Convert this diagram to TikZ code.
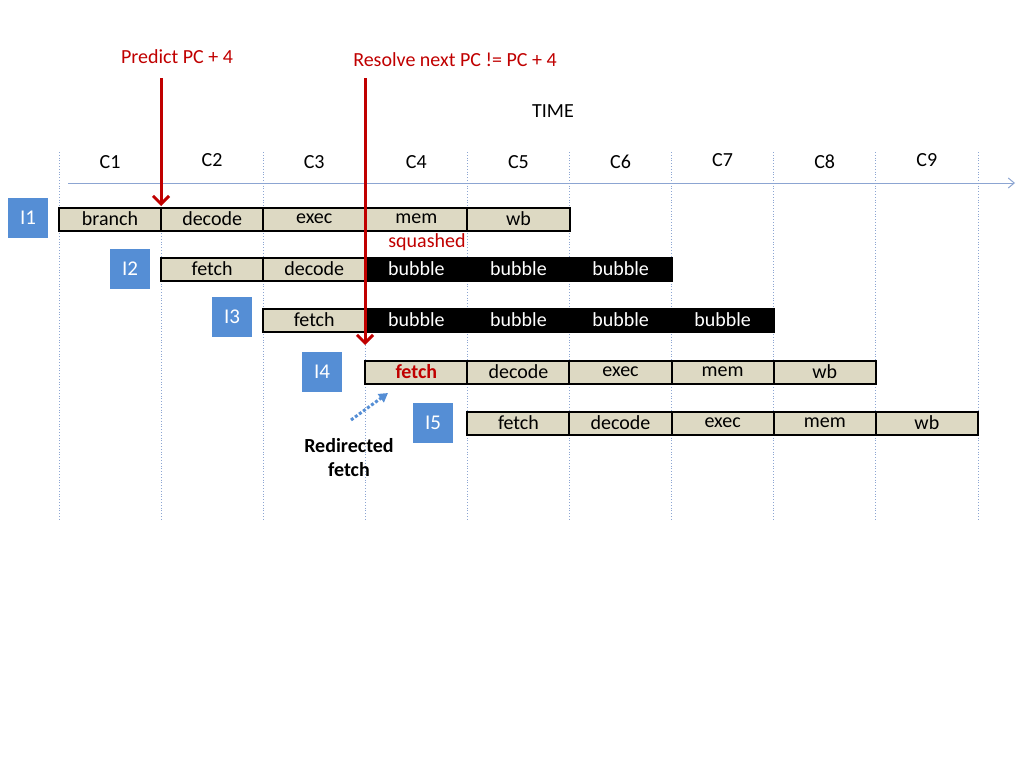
\documentclass[tikz,border=0pt]{standalone}
\usepackage{fontspec}
\setmainfont{Carlito}
\usetikzlibrary{arrows.meta}
\definecolor{tan}{RGB}{221,217,195}
\definecolor{dred}{RGB}{192,0,0}
\definecolor{lblue}{RGB}{85,142,213}
\definecolor{axis}{RGB}{140,165,210}
\tikzset{
 stg/.style={draw=black,line width=2pt,fill=tan,minimum width=102.3pt,minimum height=23pt,inner sep=0,font=\fontsize{20}{22}\selectfont,text=black},
 bub/.style={stg,fill=black,text=white},
 ilab/.style={fill=lblue,minimum width=40pt,minimum height=40pt,inner sep=0,text=white,font=\fontsize{21}{23}\selectfont},
 txt/.style={font=\fontsize{20}{22}\selectfont,inner sep=0},
 redarr/.style={draw=dred,line width=3pt,-{Straight Barb[length=8pt,width=16pt,line width=3pt]}}
}
\begin{document}
\begin{tikzpicture}[x=1pt,y=-1pt]
\useasboundingbox (0,0) rectangle (1024,768);
\foreach \i in {0,...,9}{\draw[axis,dotted,line width=0.8pt] (59+\i*102.1,152) -- (59+\i*102.1,520);}
\coordinate (a0) at (68,183); \coordinate (a1) at (1015,183);
\draw[axis,line width=1pt,-{Straight Barb[length=6pt,width=10pt]}] (a0) -- (a1);
\foreach \n/\y [count=\i from 0] in {C1/162,C2/160,C3/162,C4/162,C5/162,C6/162,C7/160,C8/162,C9/160}
 \node[txt] (c\n) at (110+\i*102.1,\y) {\n};
\node[txt] (time) at (553,111) {TIME};
% rows
\newcommand{\cx}[1]{(110.05+#1*102.1)}
\foreach \t [count=\i from 0] in {branch,decode,exec,mem,wb}
 \node[stg] (r1\i) at ({110.05+\i*102.1},219) {\t};
\foreach \t [count=\i from 1] in {fetch,decode}
 \node[stg] (r2\i) at ({110.05+\i*102.1},269) {\t};
\foreach \t [count=\i from 3] in {bubble,bubble,bubble}
 \node[bub] (r2\i) at ({110.05+\i*102.1},269) {\t};
\node[stg] (r32) at ({110.05+2*102.1},320) {fetch};
\foreach \i in {3,...,6}
 \node[bub] (r3\i) at ({110.05+\i*102.1},320) {bubble};
\node[stg,text=dred,font=\fontsize{20}{22}\selectfont\bfseries] (r43) at ({110.05+3*102.1},372) {fetch};
\foreach \t [count=\i from 4] in {decode,exec,mem,wb}
 \node[stg] (r4\i) at ({110.05+\i*102.1},372) {\t};
\foreach \t [count=\i from 4] in {fetch,decode,exec,mem,wb}
 \node[stg] (r5\i) at ({110.05+\i*102.1},423) {\t};
\node[ilab] (i1) at (28,218) {I1};
\node[ilab] (i2) at (130,269) {I2};
\node[ilab] (i3) at (232,317) {I3};
\node[ilab] (i4) at (322,372) {I4};
\node[ilab] (i5) at (433,423) {I5};
\node[txt,text=dred] (sq) at (427,242) {squashed};
\node[txt,text=dred] (pred) at (177,57) {Predict PC + 4};
\node[txt,text=dred] (res) at (455,60) {Resolve next PC != PC + 4};
\coordinate (p0) at (161,78); \coordinate (p1) at (161,206);
\coordinate (q0) at (365,78); \coordinate (q1) at (365,345);
\draw[redarr] (p0) -- (p1);
\draw[redarr] (q0) -- (q1);
\node[txt,font=\fontsize{20}{24}\selectfont\bfseries,align=center] (redir) at (349,458) {Redirected\\fetch};
\coordinate (d0) at (351,420); \coordinate (d1) at (388,393);
\draw[lblue,line width=3pt,dotted,-{Triangle[length=9pt,width=10pt]}] (d0) -- (d1);
\end{tikzpicture}
\end{document}
